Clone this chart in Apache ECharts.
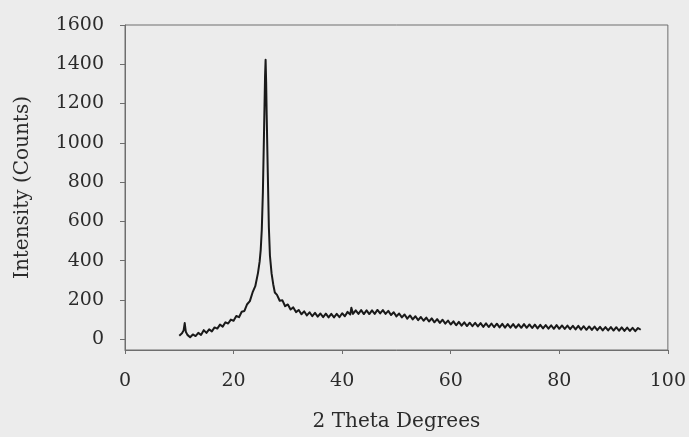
<!DOCTYPE html>
<html>
<head>
<meta charset="utf-8">
<script src="https://cdn.jsdelivr.net/npm/echarts@6/dist/echarts.min.js"></script>
<style>
html,body{margin:0;padding:0;background:#ececec;}
#chart{width:689px;height:437px;}
</style>
</head>
<body>
<div id="chart"></div>
<script>
var xTicks = [0, 20, 40, 60, 80, 100];
var yTicks = [0, 200, 400, 600, 800, 1000, 1200, 1400, 1600];

var theta = [
 10.0,10.5,10.8,11.0,11.2,11.5,12.0,12.5,13.0,13.5,14.0,14.5,15.0,15.5,16.0,16.5,17.0,17.5,18.0,18.5,
 19.0,19.5,20.0,20.5,21.0,21.5,22.0,22.5,23.0,23.5,24.0,24.5,24.8,25.0,25.2,25.4,25.6,25.8,25.9,26.0,
 26.1,26.3,26.5,26.7,27.0,27.3,27.6,28.0,28.5,29.0,29.5,30.0,30.5,31.0,31.5,32.0,32.5,33.0,33.5,34.0,
 34.5,35.0,35.5,36.0,36.5,37.0,37.5,38.0,38.5,39.0,39.5,40.0,40.5,41.0,41.5,41.7,42.0,42.5,43.0,43.5,
 44.0,44.5,45.0,45.5,46.0,46.5,47.0,47.5,48.0,48.5,49.0,49.5,50.0,50.5,51.0,51.5,52.0,52.5,53.0,53.5,
 54.0,54.5,55.0,55.5,56.0,56.5,57.0,57.5,58.0,58.5,59.0,59.5,60.0,60.5,61.0,61.5,62.0,62.5,63.0,63.5,
 64.0,64.5,65.0,65.5,66.0,66.5,67.0,67.5,68.0,68.5,69.0,69.5,70.0,70.5,71.0,71.5,72.0,72.5,73.0,73.5,
 74.0,74.5,75.0,75.5,76.0,76.5,77.0,77.5,78.0,78.5,79.0,79.5,80.0,80.5,81.0,81.5,82.0,82.5,83.0,83.5,
 84.0,84.5,85.0,85.5,86.0,86.5,87.0,87.5,88.0,88.5,89.0,89.5,90.0,90.5,91.0,91.5,92.0,92.5,93.0,93.5,
 94.0,94.5,95.0
];
var counts = [
 18,30,45,82,38,22,10,24,16,32,22,46,32,50,40,60,54,74,64,86,
 80,100,94,118,112,140,144,178,194,238,270,338,395,455,560,750,1040,1340,1423,1310,
 1140,850,570,425,335,280,238,226,196,198,168,177,151,162,138,149,127,142,121,137,
 117,134,115,131,112,130,111,129,111,129,112,132,117,139,126,160,129,147,129,148,
 128,147,128,147,129,149,131,148,129,144,123,137,116,131,111,126,105,121,101,117,
 97,113,94,110,90,106,86,102,83,99,79,95,75,91,71,88,69,86,67,84,
 66,83,65,82,63,81,62,80,61,79,60,78,59,77,59,77,58,76,58,77,
 58,75,57,74,55,73,55,72,54,71,53,72,53,70,52,69,51,68,50,68,
 49,66,48,65,47,64,46,63,45,62,45,62,44,61,43,60,42,59,42,58,
 41,57,48
];

var data = theta.map(function (t, i) { return [t, counts[i]]; });

var font = 'DejaVu Serif';
var textColor = '#2b2b2b';
var lineColor = '#6e6e6e';

function plain(v) { return String(v); }

var chart = echarts.init(document.getElementById('chart'), null, {renderer: 'canvas'});
chart.setOption({
  backgroundColor: '#ececec',
  animation: false,
  grid: {
    left: 125, right: 21, top: 25, bottom: 82,
    show: true, borderColor: lineColor, borderWidth: 1,
    backgroundColor: 'transparent'
  },
  xAxis: {
    type: 'value',
    min: 0, max: 100, interval: 20,
    name: '2 Theta Degrees',
    nameLocation: 'middle',
    nameGap: 62,
    nameTextStyle: {fontFamily: font, fontSize: 20, color: textColor},
    axisLine: {show: true, onZero: false, lineStyle: {color: lineColor, width: 1}},
    axisTick: {show: true, inside: false, length: 4, lineStyle: {color: lineColor}},
    axisLabel: {
      margin: 22, fontFamily: font, fontSize: 19, color: textColor,
      customValues: xTicks, formatter: plain
    },
    splitLine: {show: false}
  },
  yAxis: {
    type: 'value',
    min: -55, max: 1600,
    name: 'Intensity (Counts)',
    nameLocation: 'middle',
    nameGap: 92,
    nameTextStyle: {fontFamily: font, fontSize: 20, color: textColor},
    axisLine: {show: true, onZero: false, lineStyle: {color: lineColor, width: 1}},
    axisTick: {show: true, inside: false, length: 5, lineStyle: {color: lineColor}, customValues: yTicks},
    axisLabel: {
      margin: 21, fontFamily: font, fontSize: 19, color: textColor,
      customValues: yTicks, formatter: plain, padding: [0, 0, 10, 0]
    },
    splitLine: {show: false}
  },
  series: [{
    type: 'line',
    data: data,
    showSymbol: false,
    symbol: 'none',
    lineStyle: {color: '#1a1a1a', width: 2, join: 'round'},
    z: 3
  }]
});
</script>
</body>
</html>
